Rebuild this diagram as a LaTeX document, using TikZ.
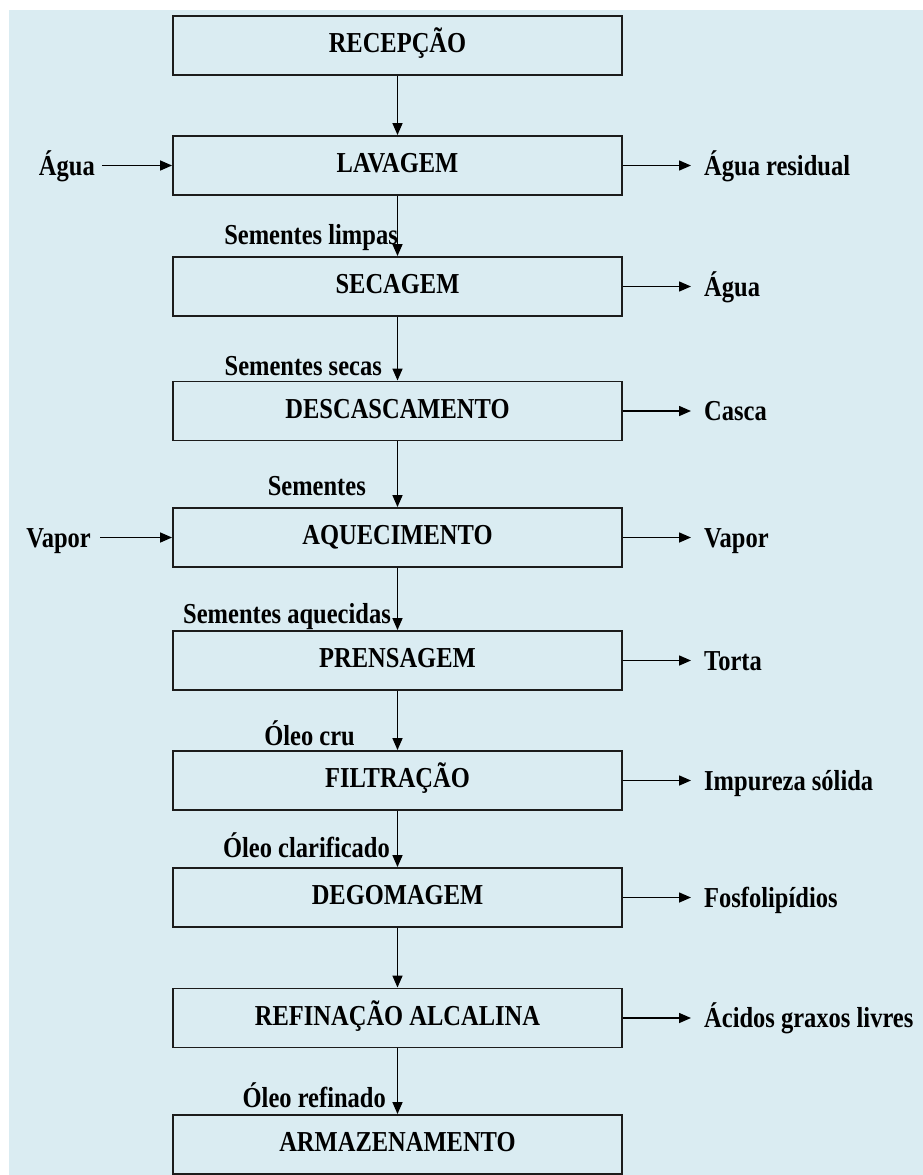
\documentclass[tikz,border=0pt]{standalone}
\usepackage{fontspec}
\setmainfont{Liberation Serif}
\usetikzlibrary{arrows.meta}
\definecolor{bgblue}{RGB}{218,236,242}
\definecolor{edge}{RGB}{28,28,28}
\newcommand\stretched[1]{\scalebox{1}[1.18]{#1}}
\tikzset{
  every node/.style={font=\fontsize{24.5}{29}\selectfont\bfseries},
  procbox/.style={draw=edge, line width=1.9pt, minimum width=449pt, minimum height=59pt,
    inner sep=0pt, text height=19pt, text depth=5pt},
  sidelbl/.style={inner sep=0pt, text height=19pt, text depth=0pt},
  flowlbl/.style={inner sep=0pt, anchor=base east},
  arr/.style={line width=1.5pt, -{Triangle[length=12pt,width=10pt]}},
}
\begin{document}
\begin{tikzpicture}[x=1pt,y=-1pt]
\useasboundingbox (0,0) rectangle (923,1175);
\fill[bgblue] (9,10) rectangle (923,1175);

% process boxes
\node[procbox] (rec) at (397.5,45.5)  {\stretched{RECEPÇÃO}};
\node[procbox] (lav) at (397.5,165.5) {\stretched{LAVAGEM}};
\node[procbox] (sec) at (397.5,286.5) {\stretched{SECAGEM}};
\node[procbox] (des) at (397.5,411)   {\stretched{DESCASCAMENTO}};
\node[procbox] (aqu) at (397.5,537.5) {\stretched{AQUECIMENTO}};
\node[procbox] (pre) at (397.5,660.5) {\stretched{PRENSAGEM}};
\node[procbox] (fil) at (397.5,780.5) {\stretched{FILTRAÇÃO}};
\node[procbox] (deg) at (397.5,897.5) {\stretched{DEGOMAGEM}};
\node[procbox] (ref) at (397.5,1018)  {\stretched{REFINAÇÃO ALCALINA}};
\node[procbox] (arm) at (397.5,1144.5){\stretched{ARMAZENAMENTO}};

% main flow
\draw[arr] (rec) -- (lav);
\draw[arr] (lav) -- (sec);
\draw[arr] (sec) -- (des);
\draw[arr] (des) -- (aqu);
\draw[arr] (aqu) -- (pre);
\draw[arr] (pre) -- (fil);
\draw[arr] (fil) -- (deg);
\draw[arr] (deg) -- (ref);
\draw[arr] (ref) -- (arm);

% flow labels
\node[flowlbl] (l1) at (398,244) {\stretched{Sementes limpas}};
\node[flowlbl] (l2) at (382,375) {\stretched{Sementes secas}};
\node[flowlbl] (l3) at (366,495) {\stretched{Sementes}};
\node[flowlbl] (l4) at (391,623) {\stretched{Sementes aquecidas}};
\node[flowlbl] (l5) at (355,745) {\stretched{Óleo cru}};
\node[flowlbl] (l6) at (390,857) {\stretched{Óleo clarificado}};
\node[flowlbl] (l7) at (386,1107){\stretched{Óleo refinado}};

% inputs
\node[sidelbl, anchor=east] (ain) at (95,165.5) {\stretched{Água}};
\node[sidelbl, anchor=east] (vin) at (91,537.5) {\stretched{Vapor}};
\draw[arr, shorten <=7pt] (ain) -- (lav);
\draw[arr, shorten <=9pt] (vin) -- (aqu);

% outputs
\node[sidelbl, anchor=west] (o1) at (704,165.5) {\stretched{Água residual}};
\node[sidelbl, anchor=west] (o2) at (704,286.5) {\stretched{Água}};
\node[sidelbl, anchor=west] (o3) at (704,411)   {\stretched{Casca}};
\node[sidelbl, anchor=west] (o4) at (704,537.5) {\stretched{Vapor}};
\node[sidelbl, anchor=west] (o5) at (704,660.5) {\stretched{Torta}};
\node[sidelbl, anchor=west] (o6) at (704,780.5) {\stretched{Impureza sólida}};
\node[sidelbl, anchor=west] (o7) at (704,897.5) {\stretched{Fosfolipídios}};
\node[sidelbl, anchor=west] (o8) at (704,1018)  {\stretched{Ácidos graxos livres}};
\foreach \b/\o in {lav/o1,sec/o2,des/o3,aqu/o4,pre/o5,fil/o6,deg/o7,ref/o8}
  \draw[arr, shorten >=13pt] (\b) -- (\o);
\end{tikzpicture}
\end{document}
